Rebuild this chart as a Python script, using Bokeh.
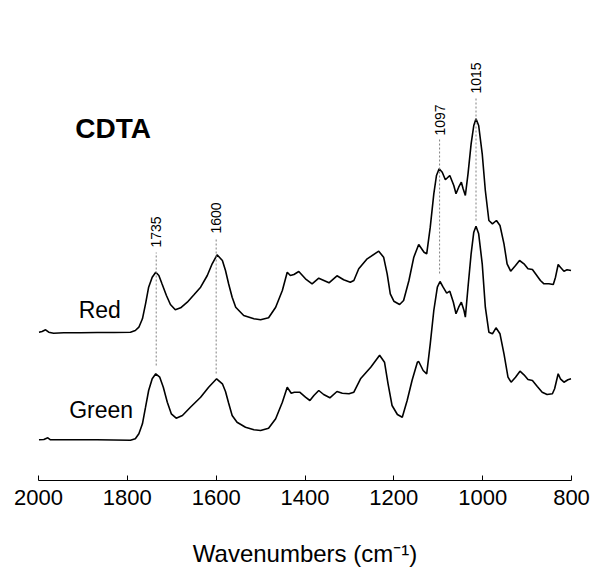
from math import pi
from bokeh.plotting import figure
from bokeh.models import Range1d, FixedTicker
from bokeh.core.properties import value
from bokeh.embed import file_html
from bokeh.resources import INLINE

# ---------------- data ----------------
red_wn = [1999, 1992, 1984, 1977, 1966, 1943, 1905, 1868, 1830, 1793, 1782, 1774, 1766, 1759,
          1752, 1744, 1736, 1729, 1722, 1712, 1703, 1692, 1680, 1665, 1650, 1635, 1620, 1609,
          1598, 1586, 1579, 1572, 1564, 1556, 1538, 1515, 1500, 1482, 1466, 1451, 1440, 1433,
          1425, 1414, 1399, 1384, 1369, 1346, 1328, 1313, 1298, 1290, 1279, 1260, 1234, 1223,
          1215, 1208, 1200, 1187, 1178, 1166, 1155, 1144, 1132, 1126, 1118, 1110, 1104, 1098,
          1091, 1084, 1074, 1065, 1060, 1054, 1048, 1044, 1039, 1033, 1026, 1020, 1015, 1009,
          1001, 994, 986, 978, 969, 961, 952, 945, 937, 926, 917, 907, 898, 888, 881, 870,
          862, 851, 841, 836, 830, 825, 817, 810, 801]
red_abs = [0.3, 1.0, 2.7, 0.3, -0.7, -0.3, -0.3, 0.0, 0.0, 0.3, 2.0, 5.3, 13.7, 28.7,
           45.3, 55.3, 60.3, 57.0, 48.7, 37.0, 28.0, 22.7, 24.7, 30.3, 37.7, 45.3, 57.0, 68.7,
           77.7, 72.0, 62.0, 48.7, 35.3, 25.3, 17.0, 13.7, 12.7, 14.7, 25.3, 42.0, 60.3, 57.0,
           58.0, 61.0, 53.7, 48.7, 54.3, 49.7, 56.7, 52.7, 50.3, 52.0, 63.7, 73.7, 81.3, 75.3,
           58.7, 38.7, 31.3, 28.0, 32.0, 52.0, 75.3, 88.0, 80.3, 78.7, 105.3, 138.7, 157.0, 163.7,
           160.3, 152.7, 157.0, 147.0, 138.7, 145.3, 150.3, 143.7, 137.0, 158.7, 188.7, 207.0, 213.7, 207.0,
           178.7, 142.0, 112.0, 108.7, 112.0, 107.0, 88.7, 68.7, 61.3, 67.0, 72.0, 68.7, 63.7, 63.0, 58.7, 52.0,
           48.7, 48.7, 48.0, 55.3, 68.0, 65.3, 61.3, 62.7, 62.0]

green_wn = [1999, 1988, 1979, 1973, 1943, 1868, 1793, 1782, 1774, 1766, 1759, 1752, 1744, 1736,
            1727, 1719, 1710, 1701, 1690, 1676, 1658, 1635, 1617, 1599, 1586, 1579, 1572, 1564,
            1553, 1534, 1515, 1500, 1482, 1466, 1451, 1440, 1431, 1424, 1412, 1399, 1389, 1380,
            1369, 1358, 1344, 1328, 1316, 1301, 1290, 1275, 1252, 1232, 1221, 1213, 1204, 1192,
            1181, 1170, 1159, 1147, 1144, 1134, 1126, 1118, 1110, 1102, 1096, 1089, 1081, 1074,
            1066, 1060, 1054, 1048, 1042, 1039, 1033, 1026, 1020, 1015, 1009, 1001, 994, 986,
            978, 970, 961, 952, 943, 936, 926, 916, 907, 898, 888, 877, 866, 855, 843, 838,
            830, 825, 817, 808, 801]
green_abs = [-0.3, 0.0, 1.7, -0.3, -0.3, -0.3, -0.7, 0.7, 5.7, 15.7, 32.3, 49.0, 60.7, 65.7,
             62.3, 52.3, 37.3, 25.7, 21.3, 24.0, 32.3, 42.3, 52.3, 60.7, 55.7, 48.0, 36.5, 24.0,
             17.3, 12.3, 9.7, 9.0, 11.3, 20.7, 37.3, 52.3, 46.3, 47.3, 47.3, 42.3, 39.0, 44.0,
             49.0, 45.0, 41.7, 48.0, 46.3, 45.7, 47.3, 60.7, 72.3, 84.3, 77.3, 55.7, 34.0, 25.0,
             22.3, 39.0, 59.0, 77.3, 78.0, 69.0, 65.7, 95.7, 129.0, 152.3, 158.0, 152.3, 146.3, 148.3,
             137.3, 125.7, 132.3, 137.3, 129.0, 122.3, 152.3, 185.7, 207.3, 213.3, 205.7, 175.7, 132.3, 107.3,
             105.7, 111.7, 105.7, 85.7, 62.3, 57.3, 62.3, 68.3, 64.7, 60.0, 59.0, 53.0, 47.3, 45.0, 45.7, 50.7,
             65.7, 60.7, 57.3, 59.7, 60.7]

series_names = ["Red", "Green"]
peak_marks = [1735, 1600, 1097, 1015]
x_ticks = [2000, 1800, 1600, 1400, 1200, 1000, 800]
title_text = "CDTA"
x_label = "Wavenumbers (cm\u207b\u00b9)"

# ---------------- layout constants ----------------
RED_BASE = 148
GREEN_BASE = 41
mark_y0 = [115, 107, 207, 260]
mark_y1 = [228, 242, 341, 383]
mark_label_y = [233, 247, 345, 387]
FONT_NAME = "Liberation Sans"
FONT = value(FONT_NAME)

p = figure(width=595, height=579, x_range=Range1d(2000, 800), y_range=Range1d(0, 480),
           output_backend="svg", toolbar_location=None, y_axis_location=None,
           min_border_left=38, min_border_right=24, min_border_top=0, min_border_bottom=99)
p.xgrid.visible = False
p.ygrid.visible = False
p.outline_line_color = None

p.line(red_wn, [RED_BASE + v for v in red_abs], line_color="black", line_width=1.6)
p.line(green_wn, [GREEN_BASE + v for v in green_abs], line_color="black", line_width=1.6)

p.segment(x0=peak_marks, y0=mark_y0, x1=peak_marks, y1=mark_y1,
          line_color="#808080", line_width=1, line_dash="2 2")
p.text(x=peak_marks, y=mark_label_y, text=[str(m) for m in peak_marks], angle=pi / 2,
       text_align="left", text_baseline="middle", text_font=FONT,
       text_font_size="14px", text_color="black")

p.text(x=[1917], y=[352], text=[title_text], text_font=FONT, text_font_style="bold",
       text_font_size="28px", text_align="left", text_baseline="middle", text_color="black")
p.text(x=[1862, 1859], y=[171, 71], text=series_names, text_font=FONT,
       text_font_size="23px", text_align="center", text_baseline="middle", text_color="black")

ax = p.xaxis[0]
ax.ticker = FixedTicker(ticks=x_ticks)
ax.minor_tick_line_color = None
ax.major_tick_in = 5
ax.major_tick_out = 0
ax.axis_line_color = "black"
ax.major_tick_line_color = "black"
ax.major_label_text_font = FONT_NAME
ax.major_label_text_font_size = "22px"
ax.major_label_text_color = "black"
ax.major_label_standoff = 9
ax.axis_label = x_label
ax.axis_label_text_font = FONT_NAME
ax.axis_label_text_font_size = "24px"
ax.axis_label_text_font_style = "normal"
ax.axis_label_text_color = "black"
ax.axis_label_standoff = 32

open("out.html", "w").write(file_html(p, INLINE))
